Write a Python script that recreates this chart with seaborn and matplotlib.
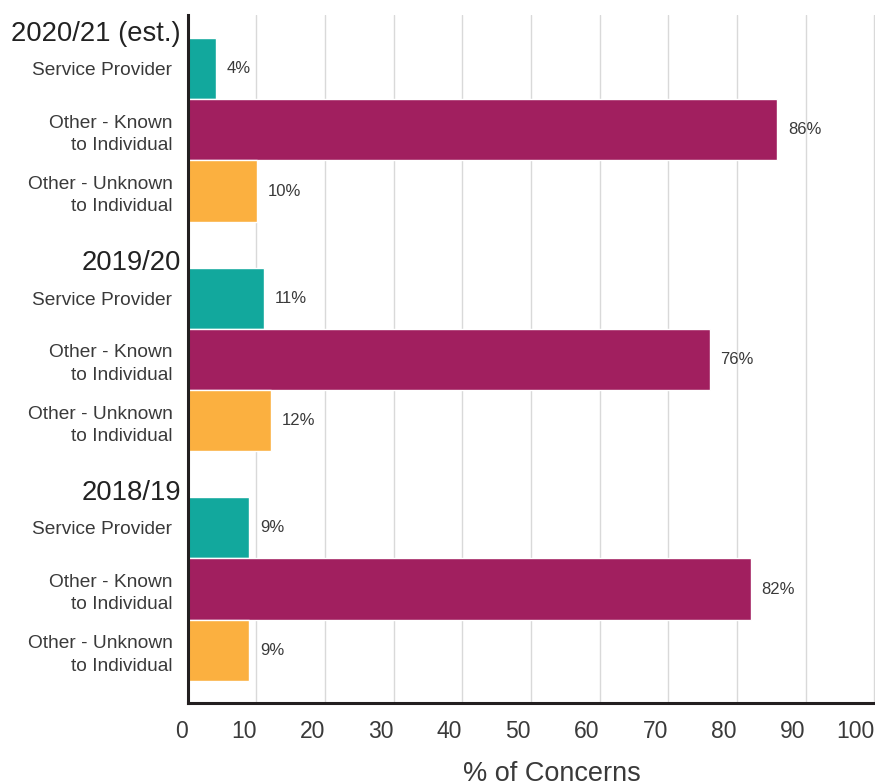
import matplotlib
matplotlib.use("Agg")
import matplotlib.pyplot as plt
import seaborn as sns
import pandas as pd

# ---------------------------------------------------------
# DATA
# ---------------------------------------------------------
years = ["2020/21 (est.)", "2019/20", "2018/19"]
sources = ["Service Provider", "Other - Known\nto Individual", "Other - Unknown\nto Individual"]
pct_2021 = [4.1, 85.9, 10.1]
pct_1920 = [11.1, 76.0, 12.1]
pct_1819 = [9.0, 82.0, 9.0]
values = [pct_2021, pct_1920, pct_1819]

colors = ["#12a89d", "#a11f5f", "#fbb040"]

group_start = [0, 3.75, 7.5]

rows = []
for g, yr in enumerate(years):
    for i, src in enumerate(sources):
        rows.append({"year": yr, "source": src, "pct": values[g][i],
                     "pos": group_start[g] + i})
df = pd.DataFrame(rows)

# ---------------------------------------------------------
# PLOT
# ---------------------------------------------------------
sns.set_style("white")
plt.rcParams["font.family"] = ["Liberation Sans", "DejaVu Sans"]
text_col = "#3a3a3a"

fig = plt.figure(figsize=(8.75, 7.82), dpi=100)
ax = fig.add_axes([0.2145, 0.101, 0.7855, 0.8798])

sns.barplot(data=df, x="pct", y="pos", hue="source", orient="y",
            native_scale=True, dodge=False, width=1.0,
            palette=dict(zip(sources, colors)), hue_order=sources,
            legend=False, saturation=1, ax=ax, zorder=2)

ax.set_xlim(0, 100.1)
ax.set_ylim(10.36, -0.875)
ax.set_xticks(range(0, 101, 10))
ax.set_xticklabels([str(t) for t in range(0, 101, 10)], ha="right",
                   fontsize=16.5, color=text_col)
ax.set_yticks(df["pos"])
ax.set_yticklabels(df["source"], fontsize=13.8, color=text_col,
                   linespacing=1.4)
ax.tick_params(axis="both", length=0)
ax.tick_params(axis="y", pad=11)
ax.tick_params(axis="x", pad=12)

ax.grid(axis="x", color="#d9d9d9", linewidth=1, zorder=0)
ax.grid(axis="y", visible=False)
ax.set_axisbelow(True)
for side in ["top", "right"]:
    ax.spines[side].set_visible(False)
for side in ["left", "bottom"]:
    ax.spines[side].set_color("#231f20")
    ax.spines[side].set_linewidth(2.2)

ax.set_ylabel("")
ax.set_xlabel("% of Concerns", fontsize=19.5, color=text_col)
ax.xaxis.set_label_coords(0.53, -0.085)
ax.xaxis.label.set_va("top")

# value labels
for _, r in df.iterrows():
    ax.text(r["pct"] + 1.6, r["pos"], f"{round(r['pct']):.0f}%",
            va="center", ha="left", fontsize=12, color=text_col)

# year headers
trans = ax.get_yaxis_transform()
for g, yr in enumerate(years):
    ax.text(-0.01, group_start[g] - 0.57, yr, transform=trans, ha="right",
            va="center", fontsize=19.8, color="#222222", clip_on=False)

fig.savefig("out.png", dpi=100)
